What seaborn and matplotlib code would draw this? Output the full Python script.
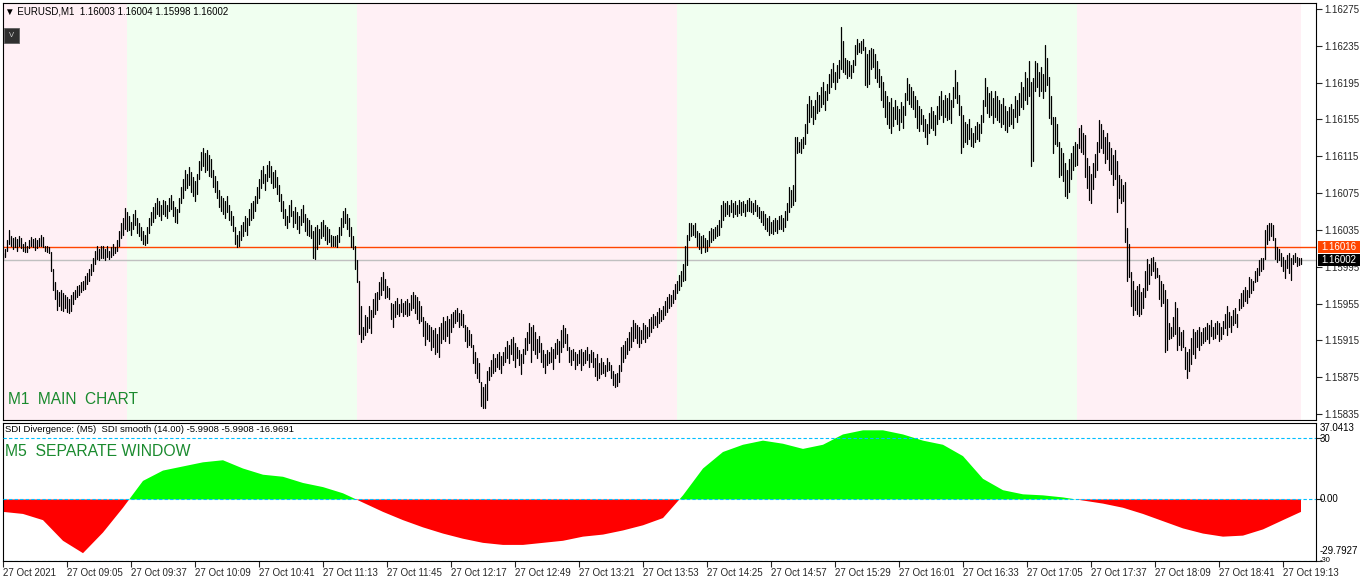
import numpy as np
import pandas as pd
import matplotlib
matplotlib.use("Agg")
import matplotlib.pyplot as plt
from matplotlib.patches import Rectangle
import seaborn as sns

W, H = 1362, 581

# EURUSD M1 bars from 27 Oct 2021 08:33, high / low in points (0.00001) away from 1.16000
high_pts = [
    10, 14, 24, 35, 28, 26, 27, 25, 28, 26,
    20, 22, 18, 24, 27, 25, 26, 24, 26, 29,
    27, 18, 17, 16, 11, -8, -22, -30, -33, -30,
    -34, -36, -38, -40, -36, -33, -30, -26, -25, -22,
    -20, -15, -12, -8, -2, 4, 12, 18, 14, 18,
    17, 14, 18, 12, 16, 20, 16, 24, 34, 42,
    48, 59, 54, 50, 44, 52, 57, 48, 42, 38,
    34, 30, 38, 48, 54, 60, 64, 70, 66, 62,
    68, 66, 62, 70, 73, 66, 60, 58, 70, 82,
    90, 100, 96, 103, 98, 92, 88, 96, 110, 120,
    124, 118, 122, 116, 112, 100, 94, 88, 78, 72,
    70, 66, 72, 62, 56, 50, 38, 30, 34, 40,
    44, 50, 48, 58, 64, 66, 72, 82, 90, 100,
    104, 96, 106, 110, 104, 98, 100, 92, 84, 74,
    66, 58, 50, 62, 68, 56, 60, 54, 50, 58,
    62, 52, 48, 46, 40, 34, 38, 40, 36, 44,
    46, 40, 38, 36, 30, 28, 28, 30, 38, 48,
    56, 59, 52, 48, 38, 28, 17, 2, -20, -48,
    -70, -57, -60, -48, -52, -40, -34, -32, -22, -16,
    -11, -18, -26, -28, -44, -46, -42, -39, -46, -40,
    -44, -42, -40, -44, -36, -33, -36, -38, -42, -48,
    -60, -64, -66, -68, -70, -74, -72, -78, -70, -66,
    -60, -64, -59, -62, -56, -54, -52, -50, -55, -52,
    -56, -68, -70, -74, -78, -90, -98, -104, -110, -130,
    -136, -132, -118, -114, -106, -100, -104, -100, -98, -102,
    -98, -92, -86, -90, -84, -81, -88, -92, -96, -100,
    -94, -82, -76, -66, -70, -68, -76, -84, -80, -88,
    -95, -100, -96, -98, -92, -94, -88, -84, -86, -74,
    -68, -72, -78, -92, -96, -94, -98, -100, -96, -94,
    -98, -96, -92, -100, -96, -98, -104, -100, -110, -104,
    -108, -112, -104, -108, -112, -118, -122, -120, -112, -92,
    -90, -86, -82, -76, -70, -63, -66, -68, -70, -74,
    -66, -68, -70, -62, -60, -56, -58, -54, -50, -52,
    -48, -42, -38, -35, -36, -30, -24, -20, -14, -10,
    -2, 18, 30, 43, 42, 40, 43, 34, 32, 28,
    30, 26, 24, 34, 37, 36, 38, 40, 46, 62,
    66, 64, 66, 62, 68, 64, 66, 62, 67, 65,
    66, 63, 68, 70, 66, 64, 68, 62, 60, 56,
    55, 52, 48, 50, 44, 46, 48, 46, 50, 51,
    48, 56, 64, 82, 78, 84, 136, 136, 130, 134,
    136, 150, 172, 180, 176, 170, 176, 185, 182, 190,
    196, 186, 194, 204, 210, 216, 206, 214, 220, 255,
    240, 222, 220, 218, 214, 220, 236, 242, 238, 240,
    242, 234, 226, 230, 233, 232, 226, 218, 210, 202,
    196, 186, 180, 174, 178, 168, 176, 170, 166, 174,
    170, 184, 200, 194, 190, 186, 180, 176, 170, 166,
    160, 156, 150, 162, 168, 164, 160, 170, 180, 186,
    176, 182, 178, 184, 176, 190, 209, 196, 182, 170,
    160, 152, 150, 155, 146, 140, 148, 152, 150, 160,
    176, 200, 190, 184, 186, 178, 186, 180, 176, 172,
    178, 170, 164, 168, 172, 166, 180, 176, 184, 196,
    190, 206, 200, 218, 196, 200, 218, 216, 206, 212,
    204, 236, 222, 201, 180, 158, 158, 150, 131, 124,
    119, 108, 100, 112, 118, 126, 131, 128, 146, 149,
    140, 138, 113, 104, 96, 108, 117, 130, 154, 150,
    144, 136, 140, 130, 124, 116, 122, 110, 95, 90,
    84, 87, 37, 20, -11, -20, -30, -26, -24, -32,
    -28, -10, 3, -2, 4, 6, 0, -6, -14, -20,
    -24, -30, -40, -66, -70, -60, -43, -50, -71, -76,
    -74, -92, -98, -94, -82, -73, -76, -74, -71, -76,
    -72, -70, -66, -68, -63, -70, -66, -64, -66, -70,
    -64, -56, -48, -54, -58, -52, -50, -56, -40, -34,
    -30, -27, -30, -16, -18, -20, -10, -6, 2, 5,
    4, 35, 40, 43, 43, 40, 26, 16, 14, 10,
    6, 2, 8, 10, 4, 8, 10, 6, 4, 4,
]
low_pts = [
    3, 6, 12, 20, 18, 14, 16, 12, 17, 15,
    12, 11, 11, 15, 17, 16, 13, 15, 17, 18,
    16, 12, 11, 10, -10, -30, -40, -52, -48, -52,
    -53, -50, -54, -55, -53, -45, -40, -38, -36, -33,
    -30, -29, -24, -20, -14, -10, -2, 3, 2, 5,
    4, 2, 6, 3, 6, 8, 10, 12, 18, 26,
    30, 36, 34, 35, 30, 36, 40, 32, 28, 24,
    20, 19, 21, 32, 40, 44, 48, 52, 50, 46,
    52, 50, 48, 55, 58, 50, 44, 42, 54, 64,
    70, 78, 80, 84, 76, 72, 66, 74, 90, 100,
    104, 98, 100, 94, 92, 82, 76, 70, 60, 56,
    52, 48, 54, 46, 40, 34, 20, 16, 18, 24,
    28, 34, 30, 40, 46, 48, 56, 64, 70, 80,
    86, 78, 88, 92, 86, 80, 82, 74, 66, 56,
    48, 40, 37, 44, 50, 38, 42, 36, 32, 40,
    44, 34, 30, 28, 26, 4, 3, 14, 20, 26,
    28, 24, 20, 22, 18, 17, 18, 16, 22, 30,
    38, 42, 36, 28, 16, 14, -8, -22, -78, -87,
    -84, -79, -76, -72, -77, -60, -56, -52, -40, -36,
    -30, -39, -38, -40, -62, -71, -60, -56, -58, -54,
    -59, -56, -58, -57, -52, -50, -55, -62, -66, -64,
    -80, -90, -84, -86, -96, -92, -100, -98, -103, -88,
    -84, -86, -80, -88, -76, -70, -66, -64, -70, -68,
    -70, -86, -92, -90, -92, -110, -120, -126, -130, -156,
    -159, -158, -150, -128, -124, -120, -118, -114, -116, -120,
    -112, -108, -104, -110, -100, -106, -114, -104, -112, -122,
    -110, -100, -96, -88, -108, -96, -100, -104, -98, -108,
    -114, -120, -112, -110, -108, -116, -104, -100, -109, -98,
    -92, -88, -96, -108, -112, -106, -116, -112, -110, -117,
    -112, -110, -106, -114, -108, -114, -124, -128, -126, -122,
    -120, -124, -118, -117, -126, -134, -136, -135, -130, -118,
    -108, -104, -100, -96, -92, -86, -82, -88, -92, -88,
    -84, -87, -82, -80, -76, -72, -68, -70, -66, -64,
    -62, -57, -54, -50, -48, -44, -40, -34, -30, -26,
    -20, -19, -3, 24, 28, 30, 27, 18, 14, 10,
    16, 11, 12, 18, 22, 24, 26, 28, 30, 38,
    46, 50, 52, 50, 54, 49, 52, 50, 53, 51,
    54, 50, 55, 56, 54, 52, 56, 50, 48, 44,
    40, 36, 34, 30, 32, 31, 34, 32, 36, 36,
    34, 38, 46, 54, 60, 62, 66, 118, 120, 119,
    124, 128, 140, 152, 158, 150, 156, 162, 164, 168,
    172, 165, 176, 184, 190, 196, 188, 196, 200, 210,
    207, 204, 200, 202, 200, 206, 214, 226, 228, 227,
    230, 192, 190, 194, 210, 212, 200, 196, 190, 176,
    168, 158, 150, 146, 140, 148, 156, 150, 144, 152,
    146, 160, 176, 172, 168, 166, 158, 146, 142, 150,
    142, 136, 128, 140, 146, 144, 138, 150, 156, 160,
    152, 158, 154, 156, 151, 168, 178, 173, 160, 119,
    125, 130, 128, 134, 126, 125, 130, 134, 132, 140,
    152, 170, 162, 158, 160, 151, 158, 154, 152, 147,
    150, 144, 141, 148, 150, 146, 158, 152, 160, 168,
    166, 176, 172, 180, 104, 110, 186, 190, 180, 186,
    178, 186, 192, 157, 150, 119, 128, 126, 93, 95,
    88, 72, 70, 76, 90, 100, 104, 106, 124, 120,
    117, 93, 80, 68, 64, 79, 92, 100, 120, 124,
    118, 108, 112, 100, 96, 84, 90, 54, 70, 64,
    66, 22, -21, -16, -48, -57, -52, -56, -59, -56,
    -50, -38, -30, -24, -14, -10, -17, -16, -40, -48,
    -44, -98, -95, -84, -82, -80, -78, -95, -90, -95,
    -92, -116, -126, -118, -111, -100, -104, -92, -95, -90,
    -88, -86, -84, -88, -80, -84, -82, -78, -86, -84,
    -78, -72, -79, -70, -76, -68, -66, -70, -52, -50,
    -48, -42, -44, -38, -34, -30, -22, -20, -14, -10,
    -8, 3, 20, 24, 28, 24, 3, 0, 2, -4,
    -10, -17, -6, -12, -19, -2, 0, -4, -3, -2,
]

# SDI smooth (M5) read every 10 minutes from 08:33, last value at 19:22
sdi_smooth = [
    -6, -7, -10, -20, -26, -16, -4, 9, 14, 16, 18, 19, 15, 12, 11, 8, 6, 3,
    -1.5, -6, -10, -13.5, -16.5, -19, -21, -22, -22, -21, -20, -18, -17, -15, -12.5, -9,
    2, 15, 23, 26.5, 28.5, 27, 24.5, 26.5, 31.5, 33.5, 33.5, 31.5, 28.5, 26.5, 21, 10,
    4.5, 2.5, 2, 1, -0.5, -2, -4, -7, -10.5, -14, -16.5, -18, -17.5, -14.5, -10, -6,
]

zone_starts = ["08:33", "09:35", "11:30", "14:10", "17:30"]
zone_last = "19:22"
zone_colors = ["#FFF0F5", "#F0FFF0", "#FFF0F5", "#F0FFF0", "#FFF0F5"]

price_ticks = [1.16275, 1.16235, 1.16195, 1.16155, 1.16115, 1.16075, 1.16035,
               1.15995, 1.15955, 1.15915, 1.15875, 1.15835]
ask_price = 1.16016
bid_price = 1.16002
header = "\u25bc EURUSD,M1  1.16003 1.16004 1.15998 1.16002"
sdi_header = "SDI Divergence: (M5)  SDI smooth (14.00) -5.9908 -5.9908 -16.9691"

sns.set_style("white")
plt.rcParams["font.family"] = ["Liberation Sans", "DejaVu Sans"]

t0 = pd.Timestamp("2021-10-27 08:33")


def to_min(hhmm):
    return (pd.Timestamp(f"2021-10-27 {hhmm}") - t0) / pd.Timedelta(minutes=1)


n = len(high_pts)
bars = pd.DataFrame({
    "minute": np.repeat(np.arange(n), 2),
    "bar": np.repeat(np.arange(n), 2),
    "price": 1.16 + np.column_stack([high_pts, low_pts]).ravel() / 1e5,
})

sdi_times = pd.date_range(t0, periods=len(sdi_smooth) - 1, freq="10min").append(
    pd.DatetimeIndex([f"2021-10-27 {zone_last}"]))
sdi_min = np.asarray((sdi_times - t0) / pd.Timedelta(minutes=1), dtype=float)
sdi = np.array(sdi_smooth, dtype=float)

fig = plt.figure(figsize=(W / 100, H / 100), dpi=100)


def px_axes(x0, y0, x1, y1):
    return fig.add_axes([x0 / W, 1 - y1 / H, (x1 - x0) / W, (y1 - y0) / H])


def ptext(x, y, s, **kw):
    fig.text(x / W, 1 - y / H, s, va="center", ha="left", **kw)


xlim = (-0.25, 656.5)
ax = px_axes(2.5, 3, 1316, 420)
ax2 = px_axes(2.5, 423, 1316, 561)

# main chart
ends = zone_starts[1:] + [zone_last]
for s, e, c in zip(zone_starts, ends, zone_colors):
    ax.axvspan(to_min(s), to_min(e), color=c, lw=0, zorder=0)
ax.axhline(ask_price, color="#FF4500", lw=1.0, zorder=1.5)
ax.axhline(bid_price, color="#C0C0C0", lw=1.0, zorder=1.5)
sns.lineplot(data=bars, x="minute", y="price", units="bar", estimator=None, sort=False,
             color="black", linewidth=0.9, ax=ax, legend=False, zorder=2)
ax.set_xlim(*xlim)
ax.set_ylim(1.1582848, 1.162815)
ax.set_xlabel("")
ax.set_ylabel("")
ax.set_xticks([])
ax.yaxis.tick_right()
ax.set_yticks(price_ticks)
ax.set_yticklabels([f"{p:.5f}" for p in price_ticks])
ax.tick_params(axis="y", right=True, left=False, length=4, width=0.8, pad=2, labelsize=7)

px_price = 0.0044 / 405
for price, fc in [(ask_price, "#FF4500"), (bid_price, "black")]:
    ax.add_patch(Rectangle((1.0015, price - 6 * px_price), 0.032, 12 * px_price,
                           transform=ax.get_yaxis_transform(), fc=fc, ec="none",
                           clip_on=False, zorder=5))
    ax.text(1.004, price, f"{price:.5f}", transform=ax.get_yaxis_transform(), color="white",
            fontsize=7, va="center", ha="left", zorder=6)

# SDI window
ax2.fill_between(sdi_min, 0, sdi, where=sdi >= 0, interpolate=True, color="#00FF00", lw=0)
ax2.fill_between(sdi_min, 0, sdi, where=sdi <= 0, interpolate=True, color="#FF0000", lw=0)
for lvl in [30, 0, -29.6]:
    ax2.axhline(lvl, color="#00BFFF", lw=0.8, ls=(0, (3, 2)), zorder=3)
ax2.set_xlim(*xlim)
ax2.set_ylim(-29.7927, 37.0413)
ax2.yaxis.tick_right()
ax2.set_yticks([30, 0, -29.7927])
ax2.set_yticklabels([])
ax2.tick_params(axis="y", right=True, left=False, length=4, width=0.8)

tick_times = pd.date_range(t0, "2021-10-27 19:13", freq="32min")
tick_min = (tick_times - t0) / pd.Timedelta(minutes=1)
tick_labels = ["27 Oct 2021"] + [t.strftime("27 Oct %H:%M") for t in tick_times[1:]]
ax2.set_xticks(tick_min)
ax2.set_xticklabels(tick_labels, ha="left")
ax2.tick_params(axis="x", bottom=True, length=4, width=0.8, pad=1, labelsize=7)

for a in (ax, ax2):
    for sp in a.spines.values():
        sp.set_visible(True)
        sp.set_color("black")
        sp.set_linewidth(0.8)

# texts
ptext(5, 11, header, fontsize=7, color="black")
fig.add_artist(Rectangle((4 / W, 1 - 43 / H), 15 / W, 15 / H, transform=fig.transFigure,
                         fc="#303030", ec="#606060", lw=0.6))
fig.text(11.5 / W, 1 - 35.5 / H, "V", ha="center", va="center", fontsize=5.5, color="#d0d0d0")
ptext(8, 400, "M1  MAIN  CHART", fontsize=11.2, color="#1a8a2e")
ptext(5, 430, sdi_header, fontsize=6.8, color="black")
ptext(5, 451, "M5  SEPARATE WINDOW", fontsize=11.3, color="#1a8a2e")
for s, y, fs in [("37.0413", 428, 7), ("30", 438.5, 7), ("0.00", 499.5, 7),
                 ("-29.7927", 551.5, 7), ("-30", 561, 5.5)]:
    ptext(1320, y, s, fontsize=fs, color="black")

fig.savefig("out.png", dpi=100)
